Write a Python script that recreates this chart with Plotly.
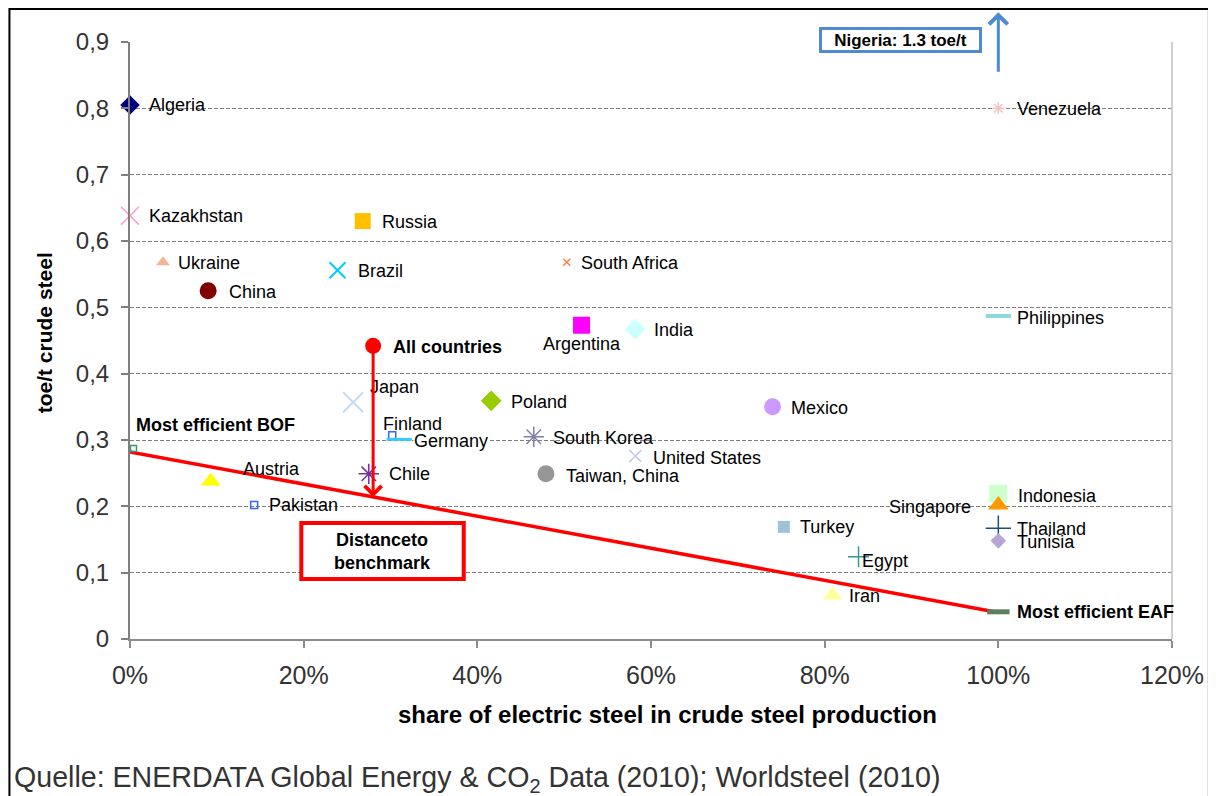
import plotly.graph_objects as go

# ---------------- data ----------------
countries = ["Algeria", "Kazakhstan", "Ukraine", "China", "Russia", "Brazil",
             "South Africa", "Argentina", "India", "Philippines", "Venezuela",
             "Japan", "Poland", "Mexico", "Finland", "Germany", "South Korea",
             "United States", "Chile", "Taiwan, China", "Most efficient BOF",
             "Austria", "Pakistan", "Turkey", "Indonesia", "Singapore",
             "Thailand", "Tunisia", "Egypt", "Iran", "Most efficient EAF",
             "All countries"]
electric_share = [0.0, 0.0, 3.8, 9.0, 26.8, 23.9,
                  50.3, 52.0, 58.2, 100.0, 100.0,
                  25.7, 41.6, 74.0, 30.2, 31.0, 46.5,
                  58.2, 27.5, 47.9, 0.4,
                  9.3, 14.3, 75.3, 100.0, 100.0,
                  100.0, 100.0, 83.9, 80.9, 100.0,
                  28.0]
toe_per_t = [0.805, 0.638, 0.568, 0.525, 0.630, 0.556,
             0.568, 0.473, 0.467, 0.487, 0.800,
             0.357, 0.359, 0.350, 0.307, 0.301, 0.305,
             0.276, 0.249, 0.249, 0.287,
             0.238, 0.202, 0.169, 0.219, 0.202,
             0.167, 0.148, 0.124, 0.066, 0.041,
             0.442]

benchmark_share = [0.0, 100.0]
benchmark_toe = [0.282, 0.040]
all_countries_on_benchmark = 0.214
nigeria_share = 100.0
nigeria_arrow_from = 0.853
nigeria_arrow_to = 0.945

x_ticks = [0, 20, 40, 60, 80, 100, 120]
x_tick_labels = ["0%", "20%", "40%", "60%", "80%", "100%", "120%"]
y_ticks = [0, 0.1, 0.2, 0.3, 0.4, 0.5, 0.6, 0.7, 0.8, 0.9]
y_tick_labels = ["0", "0,1", "0,2", "0,3", "0,4", "0,5", "0,6", "0,7", "0,8", "0,9"]

# ---------------- styles ----------------
# name: (symbol, color, size, line width)
marker_style = {
    "Algeria": ("diamond", "#000080", 15, 0),
    "Kazakhstan": ("x-thin", "#FF99CC", 18, 1.5),
    "Ukraine": ("triangle-up", "#F4B49A", 12, 0),
    "China": ("circle", "#800000", 17, 0),
    "Russia": ("square", "#FFC000", 16, 0),
    "Brazil": ("x-thin", "#00CCFF", 16, 2),
    "South Africa": ("x-thin", "#FF8040", 7, 1.5),
    "Argentina": ("square", "#FF00FF", 17, 0),
    "India": ("diamond", "#CCFFFF", 16, 0),
    "Philippines": ("line-ew", "#8ED8DB", 18, 4),
    "Venezuela": ("asterisk", "#F2C4C4", 10, 1.5),
    "Japan": ("x-thin", "#C6DCF2", 20, 2),
    "Poland": ("diamond", "#99CC00", 16, 0),
    "Mexico": ("circle", "#CC99FF", 17, 0),
    "Finland": ("square-open", "#3366FF", 7, 1.5),
    "Germany": ("line-ew", "#33CCFF", 18, 3),
    "South Korea": ("asterisk", "#8080A8", 17, 1.5),
    "United States": ("x-thin", "#C4C4E6", 12, 1.5),
    "Chile": ("asterisk", "#7030A0", 17, 1.5),
    "Taiwan, China": ("circle", "#969696", 17, 0),
    "Most efficient BOF": ("square-open", "#339966", 6, 1.5),
    "Austria": ("triangle-up", "#FFFF00", 17, 0),
    "Pakistan": ("square-open", "#3366FF", 7, 1.5),
    "Turkey": ("square", "#9DC3D9", 12, 0),
    "Indonesia": ("square", "#CCFFCC", 18, 0),
    "Singapore": ("triangle-up", "#FF9900", 18, 0),
    "Thailand": ("cross-thin", "#1F4E79", 18, 1.5),
    "Tunisia": ("diamond", "#B4A7D6", 12, 0),
    "Egypt": ("cross-thin", "#339999", 15, 1.5),
    "Iran": ("triangle-up", "#FFFF99", 17, 0),
    "Most efficient EAF": ("line-ew", "#5E7F5E", 16, 5),
    "All countries": ("circle", "#FF0000", 16, 0),
}
# name: (xshift px, yshift px, xanchor, bold, white background)
label_style = {
    "Algeria": (18, 0, "left", False, False),
    "Kazakhstan": (18, 0, "left", False, False),
    "Ukraine": (14, -1, "left", False, False),
    "China": (20, -1, "left", False, False),
    "Russia": (18, -1, "left", False, False),
    "Brazil": (19, -1, "left", False, False),
    "South Africa": (13, -1, "left", False, False),
    "Argentina": (0, -19, "center", False, False),
    "India": (18, -1, "left", False, False),
    "Philippines": (18, -2, "left", False, False),
    "Venezuela": (18, -1, "left", False, False),
    "Japan": (16, 15, "left", False, False),
    "Poland": (19, -1, "left", False, False),
    "Mexico": (17, -1, "left", False, False),
    "Finland": (-10, 11, "left", False, False),
    "Germany": (14, -2, "left", False, True),
    "South Korea": (18, -1, "left", False, False),
    "United States": (17, -2, "left", False, False),
    "Chile": (19, 0, "left", False, False),
    "Taiwan, China": (19, -2, "left", False, False),
    "Most efficient BOF": (2, 24, "left", True, False),
    "Austria": (31, 12, "left", False, False),
    "Pakistan": (14, 0, "left", False, False),
    "Turkey": (15, 0, "left", False, False),
    "Indonesia": (19, -2, "left", False, False),
    "Singapore": (-26, -2, "right", False, False),
    "Thailand": (18, -1, "left", False, False),
    "Tunisia": (18, -1, "left", False, False),
    "Egypt": (2, -4, "left", False, False),
    "Iran": (16, -1, "left", False, False),
    "Most efficient EAF": (18, 0, "left", True, False),
    "All countries": (19, -1, "left", True, False),
}

FONT = "Liberation Sans, Arial, sans-serif"
RED = "#FF0000"
BLUE = "#4F8BD2"

fig = go.Figure()

# benchmark line
fig.add_trace(go.Scatter(x=benchmark_share, y=benchmark_toe, mode="lines",
                         line=dict(color=RED, width=3.5), hoverinfo="skip",
                         showlegend=False, cliponaxis=False))

annotations = []
for name, xv, yv in zip(countries, electric_share, toe_per_t):
    sym, col, size, lw = marker_style[name]
    fig.add_trace(go.Scatter(
        x=[xv], y=[yv], mode="markers", name=name, showlegend=False,
        cliponaxis=False,
        marker=dict(symbol=sym, color=col, size=size,
                    line=dict(color=col, width=lw))))
    dx, dy, anchor, bold, bg = label_style[name]
    annotations.append(dict(
        x=xv, y=yv, xref="x", yref="y", text=f"<b>{name}</b>" if bold else name,
        showarrow=False, xanchor=anchor, yanchor="middle", xshift=dx, yshift=dy,
        font=dict(family=FONT, size=18, color="#000000"),
        bgcolor="white" if bg else None, borderpad=0))

# distance arrow
ac_x = electric_share[countries.index("All countries")]
ac_y = toe_per_t[countries.index("All countries")]
annotations.append(dict(x=ac_x, y=all_countries_on_benchmark, ax=ac_x, ay=ac_y,
                        xref="x", yref="y", axref="x", ayref="y", text="",
                        showarrow=True, arrowhead=4, arrowsize=1.1, arrowwidth=3,
                        arrowcolor=RED, standoff=0))
# Nigeria arrow
annotations.append(dict(x=nigeria_share, y=nigeria_arrow_to, ax=nigeria_share,
                        ay=nigeria_arrow_from, xref="x", yref="y", axref="x",
                        ayref="y", text="", showarrow=True, arrowhead=4,
                        arrowsize=1.2, arrowwidth=3, arrowcolor=BLUE))
# Nigeria box
annotations.append(dict(x=0.7395, y=1.0034, xref="paper", yref="paper",
                        text="<b>Nigeria: 1.3 toe/t</b>", showarrow=False,
                        xanchor="center", yanchor="middle",
                        font=dict(family=FONT, size=17, color="#000000"),
                        bgcolor="white", bordercolor=BLUE, borderwidth=3,
                        borderpad=1, width=155, height=18))
# Distance to benchmark text (box drawn as shape)
annotations.append(dict(x=0.2423, y=0.1474, xref="paper", yref="paper",
                        text="<b>Distanceto<br>benchmark</b>", showarrow=False,
                        xanchor="center", yanchor="middle", align="center",
                        font=dict(family=FONT, size=18, color="#000000")))
# axis titles
annotations.append(dict(x=0.516, y=-0.127, xref="paper", yref="paper",
                        text="<b>share of electric steel in crude steel production</b>",
                        showarrow=False, xanchor="center", yanchor="middle",
                        font=dict(family=FONT, size=24, color="#000000")))
annotations.append(dict(x=-0.082, y=0.513, xref="paper", yref="paper",
                        text="<b>toe/t crude steel</b>", textangle=-90,
                        showarrow=False, xanchor="center", yanchor="middle",
                        font=dict(family=FONT, size=21, color="#000000")))
# source
annotations.append(dict(x=-0.1128, y=-0.234, xref="paper", yref="paper",
                        text="Quelle: ENERDATA Global Energy &amp; CO<sub>2</sub> Data (2010); Worldsteel (2010)",
                        showarrow=False, xanchor="left", yanchor="middle",
                        font=dict(family=FONT, size=28.6, color="#333333")))

shapes = [
    # right plot border
    dict(type="line", xref="paper", yref="paper", x0=1, x1=1, y0=0, y1=1,
         line=dict(color="#BFBFBF", width=1.5)),
    # distance to benchmark box
    dict(type="rect", xref="paper", yref="paper", x0=0.1644, x1=0.3203,
         y0=0.1005, y1=0.1945, line=dict(color=RED, width=4),
         fillcolor="white", layer="above"),
    # outer frame
    dict(type="rect", xref="paper", yref="paper", x0=-0.1157, x1=1.0354,
         y0=-0.32, y1=1.0553, line=dict(color="#000000", width=2), layer="below"),
]

# the page body adds an 8px offset, so the figure is 8px smaller and margins shifted
fig.update_layout(
    width=1208, height=788,
    margin=dict(l=122, r=40, t=34, b=157),
    paper_bgcolor="white", plot_bgcolor="white",
    showlegend=False,
    annotations=annotations, shapes=shapes,
    font=dict(family=FONT, color="#000000"),
    xaxis=dict(range=[0, 120], tickvals=x_ticks, ticktext=x_tick_labels,
               showgrid=False, zeroline=False, showline=True,
               linecolor="#8C8C8C", linewidth=2, ticks="outside", ticklen=7,
               tickwidth=1.5, tickcolor="#8C8C8C", ticklabelstandoff=6,
               tickfont=dict(family=FONT, size=25, color="#333333")),
    yaxis=dict(range=[0, 0.9], tickvals=y_ticks, ticktext=y_tick_labels,
               showgrid=True, gridcolor="#7F7F7F", gridwidth=1,
               griddash="4px,2px", zeroline=False, showline=True,
               linecolor="#7F7F7F", linewidth=2, ticks="outside", ticklen=7,
               tickwidth=1.5, tickcolor="#7F7F7F", ticklabelstandoff=7,
               tickfont=dict(family=FONT, size=24, color="#333333")),
)

fig.write_html("out.html")
